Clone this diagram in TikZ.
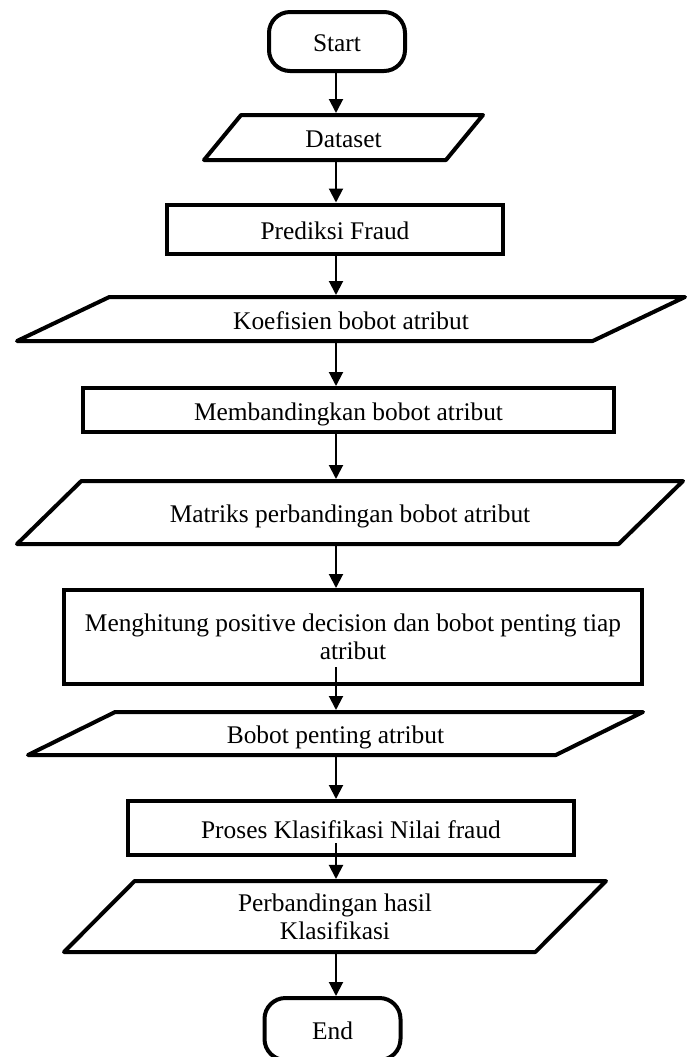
\documentclass[tikz,border=0pt]{standalone}
\usepackage{fontspec}
\setmainfont{Liberation Serif}
\usetikzlibrary{arrows.meta,shapes.geometric}

\begin{document}
\begin{tikzpicture}[x=0.5pt, y=-0.5pt,
  term/.style={draw, line width=2pt, rounded corners=10.5pt, minimum width=68pt, minimum height=29.5pt, text height=1.25em, text depth=0.25em, font=\fontsize{12.7}{14}\selectfont},
  io/.style={draw, trapezium, trapezium stretches body, line width=2pt, line join=round, text height=1.25em, text depth=0.25em, font=\fontsize{12.7}{14}\selectfont, align=center, inner sep=0pt},
  proc/.style={draw, line width=2pt, text height=1.25em, text depth=0.25em, font=\fontsize{12.7}{14}\selectfont, align=center, inner sep=0pt},
  two/.style={text height={}, text depth={}},
  ar/.style={-{Triangle[length=7pt,width=7pt]}, line width=1pt}
]
\useasboundingbox (0,0) rectangle (690,1057);
\clip (0,0) rectangle (690,1057);
\coordinate (ax) at (336,0);
\node[term] (start) at (337,41.5) {Start};
\node[io, trapezium left angle=39, trapezium right angle=141, minimum width=139.5pt, minimum height=22.5pt] (data) at (343.5,137.5) {Dataset};
\node[proc, minimum width=168pt, minimum height=24.5pt] (pred) at (335,229) {Prediksi Fraud};
\node[io, trapezium left angle=18, trapezium right angle=162, minimum width=334pt, minimum height=22pt] (koef) at (351,319) {Koefisien bobot atribut};
\node[proc, minimum width=265.5pt, minimum height=22pt] (band) at (348.5,410) {Membandingkan bobot atribut};
\node[io, trapezium left angle=25, trapezium right angle=155, minimum width=333pt, minimum height=31.5pt] (mat) at (350,512.5) {Matriks perbandingan bobot atribut};
\node[proc, two, minimum width=289pt, minimum height=47pt] (hit) at (353,637) {Menghitung positive decision dan bobot penting tiap\\atribut};
\node[io, trapezium left angle=19, trapezium right angle=161, minimum width=307.5pt, minimum height=21.5pt] (bob) at (335.5,733.5) {Bobot penting atribut};
\node[proc, minimum width=223pt, minimum height=27pt] (kls) at (351,828) {Proses Klasifikasi Nilai fraud};
\node[io, two, trapezium left angle=33, trapezium right angle=147, minimum width=271pt, minimum height=35.5pt] (hasil) at (335,916.5) {Perbandingan hasil\\Klasifikasi};
\node[term, minimum height=31pt] (end) at (332.5,1029) {End};

\draw[ar] (start.south -| ax) -- (data.north -| ax);
\draw[ar] (data.south -| ax) -- (pred.north -| ax);
\draw[ar] (pred.south -| ax) -- (koef.north -| ax);
\draw[ar] (koef.south -| ax) -- (band.north -| ax);
\draw[ar] (band.south -| ax) -- (mat.north -| ax);
\draw[ar] (mat.south -| ax) -- (hit.north -| ax);
\draw[ar] (hit.south -| ax) ++(0,-19) -- (bob.north -| ax);
\draw[ar] (bob.south -| ax) -- (kls.north -| ax);
\draw[ar] (kls.south -| ax) ++(0,-14) -- (hasil.north -| ax);
\draw[ar] (hasil.south -| ax) -- (end.north -| ax);
\end{tikzpicture}
\end{document}
